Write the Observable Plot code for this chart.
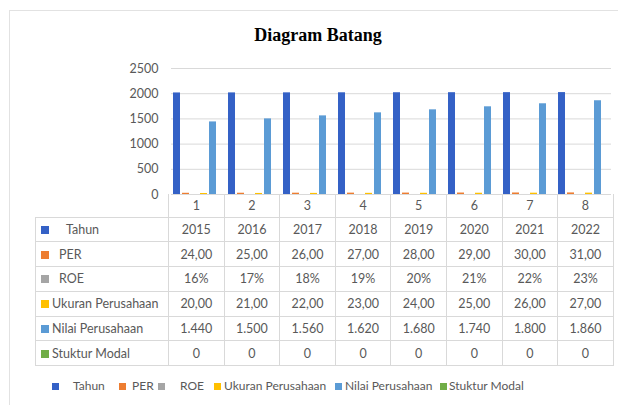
<!DOCTYPE html>
<html>
<head>
<meta charset="utf-8">
<script src="https://cdn.jsdelivr.net/npm/d3@7"></script>
<script src="https://cdn.jsdelivr.net/npm/@observablehq/plot@0.6"></script>
<style>
  html, body { margin: 0; padding: 0; background: #fff; }
  #wrap { position: relative; width: 618px; height: 405px; overflow: hidden; font-family: Lato, "Open Sans", sans-serif; color: #595959; }
  #frame { position: absolute; left: 9px; top: 10px; width: 640px; height: 420px; border-left: 1.5px solid #e2e2e2; border-top: 1.5px solid #e2e2e2; }
  #title { position: absolute; left: 0; width: 636px; top: 25px; text-align: center; font-family: "Liberation Serif", "Times New Roman", serif; font-weight: bold; font-size: 18px; color: #000; }
  #plot { position: absolute; left: 0; top: 0; }
  table { position: absolute; left: 35px; top: 194px; border-collapse: collapse; font-size: 12.5px; color: #595959; }
  td { border: 1px solid #d9d9d9; height: 23.8px; padding: 0; text-align: center; width: 54.6px; }
  td.lab { width: 132px; text-align: left; white-space: nowrap; }
  td.empty { border: none; border-right: 1px solid #d9d9d9; }
  tr.hdr td { height: 22.5px; border-top: none; }
  .sw { display: inline-block; width: 8px; height: 8px; margin-left: 5px; margin-right: 3px; vertical-align: 0px; }
  #legend { position: absolute; top: 378px; left: 0; width: 618px; height: 20px; font-size: 12px; white-space: nowrap; }
  #legend .mk { position: absolute; top: 5px; width: 7px; height: 7px; }
  #legend .tx { position: absolute; top: 0; }
</style>
</head>
<body>
<div id="wrap">
  <div id="frame"></div>
  <div id="title">Diagram Batang</div>
  <div id="plot"></div>
  <table id="tbl"></table>
  <div id="legend"></div>
</div>
<script>
const categories = ["1", "2", "3", "4", "5", "6", "7", "8"];
const series = ["Tahun", "PER", "ROE", "Ukuran Perusahaan", "Nilai Perusahaan", "Stuktur Modal"];
const colors = ["#3461C6", "#ED7D31", "#A5A5A5", "#FFC000", "#5B9BD5", "#70AD47"];
const tahun = [2015, 2016, 2017, 2018, 2019, 2020, 2021, 2022];
const per = [24, 25, 26, 27, 28, 29, 30, 31];
const roe = [0.16, 0.17, 0.18, 0.19, 0.20, 0.21, 0.22, 0.23];
const ukuran = [20, 21, 22, 23, 24, 25, 26, 27];
const nilai = [1440, 1500, 1560, 1620, 1680, 1740, 1800, 1860];
const modal = [0, 0, 0, 0, 0, 0, 0, 0];
const yTicks = [0, 500, 1000, 1500, 2000, 2500];

const values = [tahun, per, roe, ukuran, nilai, modal];
const rows = [];
categories.forEach((c, i) => {
  series.forEach((s, j) => rows.push({cat: c, series: s, value: values[j][i]}));
});

const plot = Plot.plot({
  width: 618,
  height: 204,
  marginLeft: 168,
  marginRight: 5,
  marginTop: 68,
  marginBottom: 10,
  style: {fontFamily: "Lato, 'Open Sans', sans-serif", fontSize: "12.5px", color: "#595959", background: "transparent"},
  fx: {domain: categories, padding: 0, axis: null},
  x: {domain: series, paddingInner: 0.25, paddingOuter: 0.05, axis: null},
  y: {domain: [0, 2500], ticks: yTicks, tickSize: 0, tickPadding: 13, label: null, tickFormat: d => String(d)},
  color: {domain: series, range: colors},
  marks: [
    Plot.gridY(yTicks, {stroke: "#d9d9d9", strokeOpacity: 1}),
    Plot.axisY(yTicks, {tickSize: 0, tickPadding: 13, label: null, tickFormat: d => String(d), fill: "#595959"}),
    Plot.barY(rows, {fx: "cat", x: "series", y: "value", fill: "series"})
  ]
});
document.getElementById("plot").appendChild(plot);

// data table
const fmt2 = v => v.toFixed(2).replace(".", ",");
const fmtPct = v => Math.round(v * 100) + "%";
const fmtThousand = v => d3.format(",")(v).replace(/,/g, ".");
const fmts = [v => String(v), fmt2, fmtPct, fmt2, fmtThousand, v => String(v)];
const pads = [14, 7, 7, 0, 0, 0];
const tbl = document.getElementById("tbl");
let html = '<tr class="hdr"><td class="lab empty"></td>' + categories.map(c => `<td>${c}</td>`).join("") + "</tr>";
series.forEach((s, j) => {
  html += `<tr><td class="lab"><span class="sw" style="background:${colors[j]}"></span><span style="padding-left:${pads[j]}px">${s}</span></td>` +
    values[j].map(v => `<td>${fmts[j](v)}</td>`).join("") + "</tr>";
});
tbl.innerHTML = html;

// legend
const legendMk = [52, 119, 158, 214, 335, 440];
const legendTx = [73, 132, 180, 224, 345, 449];
const leg = document.getElementById("legend");
series.forEach((s, j) => {
  const mk = document.createElement("span");
  mk.className = "mk";
  mk.style.left = legendMk[j] + "px";
  mk.style.background = colors[j];
  leg.appendChild(mk);
  const tx = document.createElement("span");
  tx.className = "tx";
  tx.style.left = legendTx[j] + "px";
  tx.textContent = s;
  leg.appendChild(tx);
});
</script>
</body>
</html>
